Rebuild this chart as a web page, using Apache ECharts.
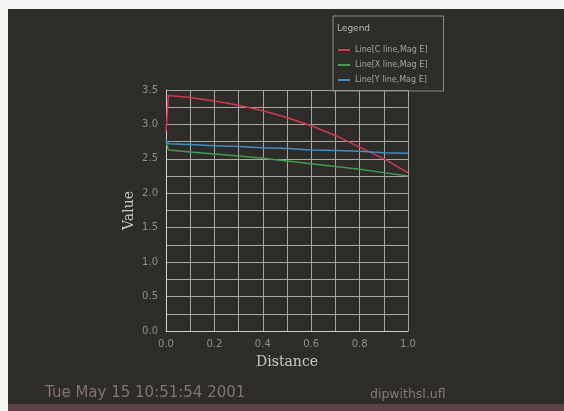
<!DOCTYPE html>
<html><head><meta charset="utf-8">
<script src="https://cdn.jsdelivr.net/npm/echarts@6/dist/echarts.min.js"></script>
<style>html,body{margin:0;padding:0;background:#fff}#c{width:564px;height:411px}</style>
</head><body><div id="c"></div>
<script>
const distance = [0, 0.01, 0.1, 0.2, 0.3, 0.4, 0.5, 0.6, 0.7, 0.8, 0.9, 1.0];
const lineC = [2.9, 3.42, 3.39, 3.34, 3.28, 3.2, 3.1, 2.98, 2.84, 2.67, 2.5, 2.3];
const lineX = [2.75, 2.63, 2.6, 2.57, 2.54, 2.51, 2.47, 2.43, 2.39, 2.35, 2.3, 2.25];
const lineY = [2.77, 2.72, 2.71, 2.69, 2.68, 2.66, 2.65, 2.63, 2.62, 2.61, 2.59, 2.58];
const seriesNames = ['Line[C line,Mag E]', 'Line[X line,Mag E]', 'Line[Y line,Mag E]'];
const dateText = 'Tue May 15 10:51:54 2001';
const fileText = 'dipwithsl.ufl';

const pair = arr => distance.map((d, i) => [d, arr[i]]);
const chart = echarts.init(document.getElementById('c'));
const colors = ['#d8344a', '#3f9e4e', '#3a8fcb'];
chart.setOption({
  backgroundColor: '#2e2c29',
  animation: false,
  grid: {left: 166, right: 156, top: 90, bottom: 80},
  graphic: [
    {type: 'rect', shape: {x: 0, y: 0, width: 564, height: 9}, style: {fill: '#f4f4f2'}, z: 100},
    {type: 'rect', shape: {x: 0, y: 0, width: 8, height: 411}, style: {fill: '#f4f4f2'}, z: 100},
    {type: 'rect', shape: {x: 8, y: 404, width: 556, height: 7}, style: {fill: '#5e4246'}, z: 100},
    {type: 'text', left: 337, top: 24, style: {text: 'Legend', fill: '#b8b8b4', fontSize: 9, fontFamily: 'DejaVu Sans'}},
    {type: 'text', left: 45, top: 386, style: {text: dateText, fill: '#857272', fontSize: 15, fontFamily: 'DejaVu Sans'}},
    {type: 'text', left: 370, top: 388, style: {text: fileText, fill: '#857b78', fontSize: 12.5, fontFamily: 'DejaVu Sans'}}
  ],
  legend: {
    orient: 'vertical', left: 333, top: 16,
    padding: [29, 16, 6, 5], itemGap: 5, itemWidth: 12, itemHeight: 2,
    icon: 'rect',
    borderColor: '#8a8a86', borderWidth: 1,
    textStyle: {color: '#a4a4a0', fontSize: 8, lineHeight: 10, fontFamily: 'DejaVu Sans'},
    data: seriesNames
  },
  xAxis: {
    type: 'value', min: 0, max: 1, interval: 0.1,
    name: 'Distance', nameLocation: 'middle', nameGap: 24,
    nameTextStyle: {color: '#c8c8c4', fontSize: 14, fontFamily: 'DejaVu Serif'},
    axisLine: {lineStyle: {color: '#d0d0cc'}},
    axisTick: {show: false},
    axisLabel: {color: '#8e8e8a', fontSize: 10, margin: 8, fontFamily: 'DejaVu Sans',
      formatter: v => (Math.round(v * 10) % 2 === 0 ? v.toFixed(1) : '')},
    splitLine: {lineStyle: {color: '#a6a6a2', width: 1}}
  },
  yAxis: {
    type: 'value', min: 0, max: 3.5, interval: 0.25,
    name: 'Value', nameLocation: 'middle', nameGap: 30,
    nameTextStyle: {color: '#c8c8c4', fontSize: 14, fontFamily: 'DejaVu Serif'},
    axisLine: {show: true, lineStyle: {color: '#d0d0cc'}},
    axisTick: {show: false},
    axisLabel: {color: '#8e8e8a', fontSize: 10, margin: 8, fontFamily: 'DejaVu Sans',
      formatter: v => (Math.round(v * 4) % 2 === 0 ? v.toFixed(1) : '')},
    splitLine: {lineStyle: {color: '#a6a6a2', width: 1}}
  },
  series: [
    {name: seriesNames[0], type: 'line', symbol: 'none', data: pair(lineC), lineStyle: {color: colors[0], width: 1.5}, itemStyle: {color: colors[0]}},
    {name: seriesNames[1], type: 'line', symbol: 'none', data: pair(lineX), lineStyle: {color: colors[1], width: 1.5}, itemStyle: {color: colors[1]}},
    {name: seriesNames[2], type: 'line', symbol: 'none', data: pair(lineY), lineStyle: {color: colors[2], width: 1.5}, itemStyle: {color: colors[2]}}
  ]
});
</script></body></html>
